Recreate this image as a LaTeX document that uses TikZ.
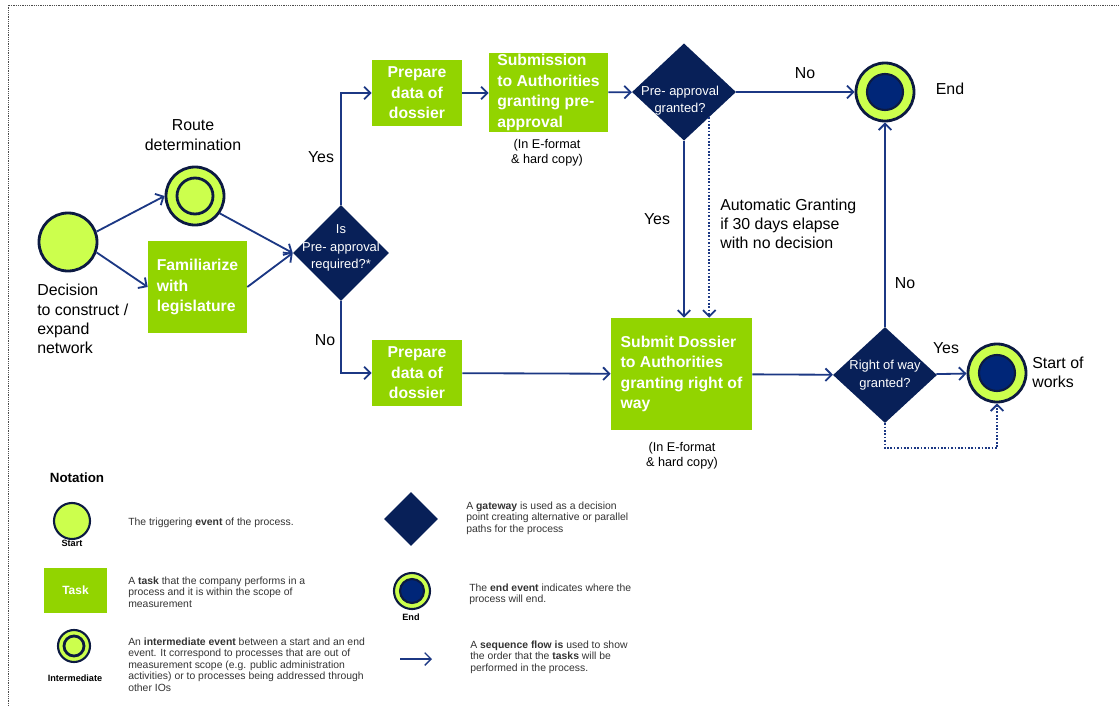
\documentclass[tikz,border=0pt]{standalone}
\usepackage{fontspec}
\setmainfont{Liberation Sans}
\usetikzlibrary{shapes.geometric,arrows.meta}

\definecolor{evgreen}{RGB}{204,255,77}
\definecolor{taskgreen}{RGB}{146,212,0}
\definecolor{gatenavy}{RGB}{8,32,88}
\definecolor{endblue}{RGB}{0,38,120}
\definecolor{evline}{RGB}{12,26,66}
\definecolor{flowblue}{RGB}{28,56,132}

\newcommand{\lblfont}{\fontsize{11.3}{13.7}\selectfont}
\newcommand{\taskfont}{\fontsize{11.2}{14.6}\selectfont\bfseries}
\newcommand{\gatefont}{\fontsize{9.2}{12.3}\selectfont}
\newcommand{\notefont}{\fontsize{9}{10.5}\selectfont}
\newcommand{\legfont}{\fontsize{7.4}{8.1}\selectfont}

\tikzset{
  event/.style={circle, draw=evline, line width=2pt, fill=evgreen,
    minimum size=1.45cm, inner sep=0pt},
  midevent/.style={event, path picture={
    \draw[evline, line width=2pt] (path picture bounding box.center) circle (#1);}},
  midevent/.default=0.45cm,
  endevent/.style={event, path picture={
    \draw[evline, line width=1.5pt, fill=endblue] (path picture bounding box.center) circle (#1);}},
  endevent/.default=0.45cm,
  task/.style={rectangle, fill=taskgreen, text=white, font=\taskfont,
    align=left, inner sep=0pt},
  gateway/.style={diamond, fill=gatenavy, inner sep=0pt},
  gatetext/.style={text=white, font=\gatefont, align=center, inner sep=0pt},
  lbl/.style={font=\lblfont, align=left, inner sep=0pt},
  note/.style={font=\notefont, align=center, inner sep=0pt},
  legtext/.style={font=\legfont, text=black!80, align=left, inner sep=0pt, anchor=west},
  legsmall/.style={font=\fontsize{6.5}{7}\selectfont\bfseries, inner sep=0pt},
  seqflow/.style={draw=flowblue, line width=1.3pt,
    -{Straight Barb[length=4.5pt,width=9pt]}},
  autoflow/.style={seqflow, dash pattern=on 1.2pt off 1.2pt},
  borderline/.style={draw=black!70, line width=0.7pt, dash pattern=on 0.8pt off 0.8pt}
}

\begin{document}
\begin{tikzpicture}[x=0.025cm,y=-0.025cm]
\useasboundingbox (0,0) rectangle (1120,706);

%%% FRAME
\draw[borderline] (8,706) -- (8,5) -- (1120,5);

%% Start
\node[event] (start) at (68,242) {};
\node[lbl, anchor=west] (declbl) at (37,319) {Decision\\to construct /\\expand\\network};

% Route determination
\node[midevent] (rd) at (195,196) {};
\node[lbl, align=center] (rdlbl) at (193,135) {Route\\determination};

% Familiarize
\node[task, minimum width=2.475cm, minimum height=2.3cm] (fam) at (197.5,287)
  {Familiarize\\with\\legislature};

% Pre-approval required?
\node[gateway, minimum width=2.4cm, minimum height=2.4cm,
  label={[gatetext, yshift=3.6pt]center:{Is\\Pre- approval\\required?*}}] (g1) at (341,253) {};
\node[lbl] (yes1) at (321,157) {Yes};
\node[lbl] (no1) at (325,340) {No};

% Prepare data (both branches)
\node[task, align=center, minimum width=2.25cm, minimum height=1.65cm] (prep1) at (417,93)
  {Prepare\\data of\\dossier};
\node[task, align=center, minimum width=2.25cm, minimum height=1.65cm] (prep2) at (417,373)
  {Prepare\\data of\\dossier};

% Submission for pre-approval
\node[task, minimum width=2.975cm, minimum height=1.975cm] (sub) at (548.5,92.5)
  {Submission\\to Authorities\\granting pre-\\approval};
\node[note] (subnote) at (547,153) {(In E-format\\\& hard copy)};

% Pre-approval granted?
\node[gateway, minimum width=2.6cm, minimum height=2.43cm,
  label={[gatetext, xshift=-2.8pt, yshift=-6.4pt]center:{Pre- approval\\granted?}}] (g2) at (684,92) {};
\node[lbl] (no2) at (805,73) {No};
\node[lbl] (yes2) at (657,219) {Yes};
\node[lbl, anchor=west] (autolbl) at (720,224) {Automatic Granting\\if 30 days elapse\\with no decision};

% End
\node[endevent] (endn) at (885,92) {};
\node[lbl] (endlbl) at (950,89) {End};

% Submit dossier for right of way
\node[task, minimum width=3.525cm, minimum height=2.8cm] (sd) at (681.5,374)
  {Submit Dossier\\to Authorities\\granting right of\\way};
\node[note] (sdnote) at (682,456) {(In E-format\\\& hard copy)};

% Right of way granted?
\node[gateway, minimum width=2.6cm, minimum height=2.4cm,
  label={[gatetext]center:{Right of way\\granted?}}] (g3) at (885,375) {};
\node[lbl] (no3) at (905,283) {No};
\node[lbl] (yes3) at (946,348) {Yes};

% Start of works
\node[endevent] (sw) at (997,373) {};
\node[lbl, anchor=west] (swlbl) at (1032,372) {Start of\\works};

%% Sequence flows
\draw[seqflow] (start.20) -- (rd.west);
\draw[seqflow] (start.-20) -- (fam.west);
\draw[seqflow] (rd.-35) -- (g1.west);
\draw[seqflow] (fam.east) -- (g1.west);
\draw[seqflow] (g1.north) |- (prep1.west);
\draw[seqflow] (g1.south) |- (prep2.west);
\draw[seqflow] (prep1.east) -- (prep1.east -| sub.west);
\draw[seqflow] (sub) -- (g2);
\draw[seqflow] (g2) -- (endn);
\draw[seqflow] (g2.south) -- (g2.south |- sd.north);
\draw[autoflow] (g2.-45) -- (g2.-45 |- sd.north);
\draw[seqflow] (prep2) -- (sd);
\draw[seqflow] (sd) -- (g3);
\draw[seqflow] (g3) -- (endn);
\draw[seqflow] (g3) -- (sw);
\draw[autoflow] (g3.south) -- ++(0,25) -| (sw.south);

%%% NOTATION
\node[font=\fontsize{9.5}{11}\selectfont\bfseries, inner sep=0pt] (notation) at (77,478) {Notation};

% start
\node[event, minimum size=0.9cm, line width=1.5pt] (lgstart) at (72,521) {};
\node[legsmall] (lgstartlbl) at (72,543) {Start};
\node[legtext] (lgstarttxt) at (128,523) {The triggering \textbf{event} of the process.};

% task
\node[task, align=center, minimum width=1.575cm, minimum height=1.125cm,
  font=\fontsize{8.5}{10}\selectfont\bfseries] (lgtask) at (75.5,590.5) {Task};
\node[legtext] (lgtasktxt) at (128,592) {A \textbf{task} that the company performs in a\\process and it is within the scope of\\measurement};

% intermediate
\node[midevent=0.25cm, minimum size=0.8cm, line width=1.5pt] (lgmid) at (74,646) {};
\node[legsmall] (lgmidlbl) at (75,678) {Intermediate};
\node[legtext] (lgmidtxt) at (128,664.5) {An \textbf{intermediate event} between a start and an end\\event. It correspond to processes that are out of\\measurement scope (e.g. public administration\\activities) or to processes being addressed through\\other IOs};

% gateway
\node[gateway, minimum width=1.35cm, minimum height=1.35cm] (lggate) at (411,519) {};
\node[legtext] (lggatetxt) at (466,518) {A \textbf{gateway} is used as a decision\\point creating alternative or parallel\\paths for the process};

% end
\node[endevent=0.3cm, minimum size=0.9cm, line width=1.5pt] (lgend) at (412,591) {};
\node[legsmall] (lgendlbl) at (411,617) {End};
\node[legtext] (lgendtxt) at (469,594) {The \textbf{end event} indicates where the\\process will end.};

% sequence flow
\coordinate (lgfrom) at (400,659);
\coordinate (lgto) at (432,659);
\draw[seqflow, line width=0.9pt] (lgfrom) -- (lgto);
\node[legtext] (lgflowtxt) at (470,657) {A \textbf{sequence flow is} used to show\\the order that the \textbf{tasks} will be\\performed in the process.};
\end{tikzpicture}
\end{document}
